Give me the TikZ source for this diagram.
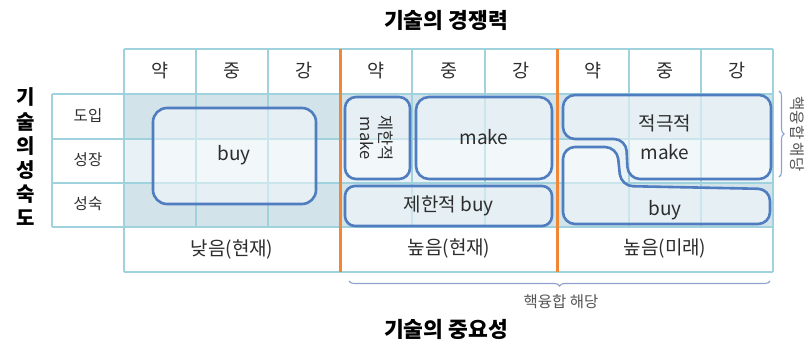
\documentclass[tikz,border=0pt]{standalone}
\usepackage{fontspec}
\setmainfont{Noto Sans CJK KR}
\usetikzlibrary{decorations.pathreplacing}
\definecolor{gridc}{RGB}{160,210,222}
\definecolor{rowdark}{RGB}{211,227,234}
\definecolor{rowlight}{RGB}{232,241,245}
\definecolor{orangec}{RGB}{240,135,55}
\definecolor{boxc}{RGB}{79,125,192}
\definecolor{txtc}{RGB}{45,45,45}
\definecolor{bracec}{RGB}{140,162,205}
\definecolor{bracetxt}{RGB}{85,85,85}
\begin{document}
\begin{tikzpicture}[x=1pt,y=-1pt,
  gridl/.style={draw=gridc, line width=1.2pt},
  sep/.style={draw=orangec, line width=3pt},
  zone/.style={draw=boxc, line width=2.6pt, fill=white, fill opacity=0.45, text opacity=1, inner sep=0pt},
  hdr/.style={font=\fontsize{18.5}{21}\selectfont, text=txtc},
  rowlab/.style={font=\fontsize{15.5}{18}\selectfont, text=txtc},
  botlab/.style={font=\fontsize{19}{22}\selectfont, text=txtc},
  boxtxt/.style={font=\fontsize{19}{22}\selectfont, text=txtc},
  title/.style={font=\fontsize{21.5}{25}\selectfont\bfseries, text=black},
  bracel/.style={font=\fontsize{15.5}{18}\selectfont, text=bracetxt},
  brc/.style={draw=bracec, line width=1.1pt, decorate}
]
\useasboundingbox (0,0) rectangle (808,343);
% row shading
\fill[rowdark] (124,94) rectangle (773,139);
\fill[rowlight] (124,139) rectangle (773,183);
\fill[rowdark] (124,183) rectangle (773,227);
% grid
\draw[gridl] (124,49) -- (773,49);
\foreach \y in {94,139,183,227} \draw[gridl] (52,\y) -- (773,\y);
\draw[gridl] (124,272) -- (773,272);
\draw[gridl] (52,94) -- (52,227);
\foreach \x in {124,196,268,412,485,629,701,773} \draw[gridl] (\x,49) -- (\x,227);
\draw[gridl] (124,227) -- (124,272);
\draw[gridl] (773,227) -- (773,272);
% orange separators
\draw[sep] (340,49) -- (340,272);
\draw[sep] (557,49) -- (557,272);
% header labels
\foreach \x/\t [count=\i] in {160/약,232/중,304/강,376/약,449/중,521/강,593/약,665/중,737/강}
  \node[hdr] (h\i) at (\x,71) {\t};
% row labels
\node[rowlab] (r1) at (88,116) {도입};
\node[rowlab] (r2) at (88,160) {성장};
\node[rowlab] (r3) at (88,204) {성숙};
% bottom labels
\node[botlab] (b1) at (232,249) {낮음(현재)};
\node[botlab] (b2) at (449,249) {높음(현재)};
\node[botlab] (b3) at (665,249) {높음(미래)};
% zones
\node[zone, rounded corners=14pt, minimum width=163pt, minimum height=96pt] (buy) at (234.5,156) {};
\node[boxtxt] (buyt) at (234,155) {buy};
\node[zone, rounded corners=11pt, minimum width=65pt, minimum height=82pt] (lmake) at (377.5,138) {};
\node[boxtxt, rotate=-90, align=center, font=\fontsize{16.5}{19}\selectfont] (lmaket) at (377,138) {제한적\\make};
\node[zone, rounded corners=13pt, minimum width=136pt, minimum height=82pt] (make) at (484,138) {};
\node[boxtxt] (maket) at (484,137) {make};
\node[zone, rounded corners=10pt, minimum width=207pt, minimum height=40pt] (lbuy) at (448.5,206) {};
\node[boxtxt] (lbuyt) at (448.5,206) {제한적 buy};
% right zones
\draw[zone, rounded corners=12pt] (563,95) -- (771,95) -- (771,179) -- (628,179) -- (626,139) -- (563,139) -- cycle;
\draw[zone, rounded corners=12pt] (563,147) -- (617,147) -- (621,186) -- (770,189) -- (770,224) -- (563,224) -- cycle;
\node[boxtxt] (amake1) at (665,123) {적극적};
\node[boxtxt] (amake2) at (665,152) {make};
\node[boxtxt] (fbuy) at (665,210) {buy};
% braces
\draw[brc, decoration={brace, amplitude=5pt}] (779,91) -- (779,177);
\node[bracel, rotate=-90] (rbl) at (797,134) {핵융합 해당};
\draw[brc, decoration={brace, amplitude=5pt, mirror}] (349,281) -- (770,281);
\node[bracel] (bbl) at (561,302) {핵융합 해당};
% titles
\node[title] (t1) at (446,20) {기술의 경쟁력};
\node[title] (t2) at (446,329) {기술의 중요성};
\node[title, align=center, font=\fontsize{20}{24.2}\selectfont\bfseries] (t3) at (26,157) {기\\술\\의\\성\\숙\\도};
\end{tikzpicture}
\end{document}
